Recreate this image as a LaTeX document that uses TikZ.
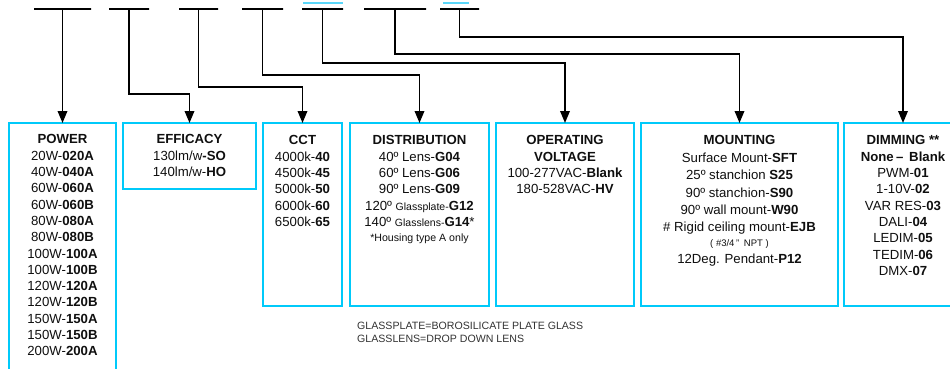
\documentclass[tikz,border=0pt]{standalone}
\usepackage{fontspec}
\setmainfont{Liberation Sans}
\usepackage{xcolor}
\definecolor{spcyan}{RGB}{0,202,250}
\definecolor{spline}{RGB}{90,215,250}
\definecolor{sptext}{RGB}{15,15,15}
\definecolor{spnote}{RGB}{50,50,50}
\usetikzlibrary{arrows.meta,positioning}

\begin{document}
\begin{tikzpicture}[x=1pt,y=-1pt,
  catbox/.style={draw=spcyan,line width=2.8pt,inner sep=0pt,outer sep=0pt},
  cattext/.style={align=center,inner sep=0pt,text=sptext,font=\fontsize{13.2}{16.3}\selectfont},
  codebar/.style={draw,line width=1.8pt,minimum height=0pt,inner sep=0pt,outer sep=0pt},
  conn/.style={line width=1.8pt,-{Triangle[length=12pt,width=9.5pt]}}]
  \useasboundingbox (0,0) rectangle (950,369);
  % code positions
  \node[codebar,minimum width=57pt] (b1) at (62.5,9) {};
  \node[codebar,minimum width=40pt] (b2) at (129,9) {};
  \node[codebar,minimum width=39pt] (b3) at (198.5,9) {};
  \node[codebar,minimum width=41pt] (b4) at (262.5,9) {};
  \node[codebar,minimum width=41pt] (b5) at (322.5,9) {};
  \node[codebar,minimum width=62pt] (b6) at (395,9) {};
  \node[codebar,minimum width=39pt] (b7) at (459.5,9) {};
  \draw[spline,line width=1.2pt] (303,3) -- (343,3);
  \draw[spline,line width=1.2pt] (443,3) -- (469,3);
  % category boxes
  \node[catbox,minimum width=107pt,minimum height=257pt] (power) at (62.5,251.5) {};
  \node[catbox,minimum width=133pt,minimum height=66pt] (eff) at (189.5,156) {};
  \node[catbox,minimum width=79pt,minimum height=183pt] (cct) at (302.5,214.5) {};
  \node[catbox,minimum width=139pt,minimum height=183pt] (dist) at (419.5,214.5) {};
  \node[catbox,minimum width=138pt,minimum height=183pt] (volt) at (565,214.5) {};
  \node[catbox,minimum width=197pt,minimum height=183pt] (mount) at (739.5,214.5) {};
  \node[catbox,minimum width=118pt,minimum height=183pt] (dim) at (903,214.5) {};
  % connectors
  \draw[conn] (b1.south) -- (power.north);
  \draw[conn] (b2.south) -- ++(0,85) -| (eff.north);
  \draw[conn] (b3.south) -- ++(0,78) -| (cct.north);
  \draw[conn] (b4.south) -- ++(0,66) -| (dist.north);
  \draw[conn] (b5.south) -- ++(0,54) -| (volt.north);
  \draw[conn] (b6.south) -- ++(0,45) -| (mount.north);
  \draw[conn] (b7.south) -- ++(0,28) -| (dim.north);
  % box contents
  \node[cattext,below=11.5pt of power.north] (powertxt) {\textbf{POWER}\\20W-\textbf{020A}\\40W-\textbf{040A}\\60W-\textbf{060A}\\60W-\textbf{060B}\\80W-\textbf{080A}\\80W-\textbf{080B}\\100W-\textbf{100A}\\100W-\textbf{100B}\\120W-\textbf{120A}\\120W-\textbf{120B}\\150W-\textbf{150A}\\150W-\textbf{150B}\\200W-\textbf{200A}};
  \node[cattext,below=11.5pt of eff.north] (efftxt) {\textbf{EFFICACY}\\130lm/w\textbf{-SO}\\140lm/w-\textbf{HO}};
  \node[cattext,below=12.5pt of cct.north] (ccttxt) {\textbf{CCT}\\4000k-\textbf{40}\\4500k-\textbf{45}\\5000k-\textbf{50}\\6000k-\textbf{60}\\6500k-\textbf{65}};
  \node[cattext,below=12.5pt of dist.north] (disttxt) {\textbf{DISTRIBUTION}\\40º Lens-\textbf{G04}\\60º Lens-\textbf{G06}\\90º Lens-\textbf{G09}\\120º {\fontsize{10.5}{12}\selectfont Glassplate-}\textbf{G12}\\140º {\fontsize{10.5}{12}\selectfont Glasslens-}\textbf{G14}*\\[-1.5pt]{\fontsize{10.6}{12}\selectfont *Housing type A only}};
  \node[cattext,below=12.5pt of volt.north] (volttxt) {\textbf{OPERATING}\\\textbf{VOLTAGE}\\100-277VAC-\textbf{Blank}\\180-528VAC-\textbf{HV}};
  \node[cattext,below=12.5pt of mount.north,font=\fontsize{13.2}{17.4}\selectfont] (mounttxt) {\textbf{MOUNTING}\\Surface Mount-\textbf{SFT}\\25º stanchion \textbf{S25}\\90º stanchion-\textbf{S90}\\90º wall mount-\textbf{W90}\\\# Rigid ceiling mount-\textbf{EJB}\\[-2.5pt]{\fontsize{9.5}{11}\selectfont ( \#3/4\,"\enspace NPT )}\\[-0.8pt]12Deg. Pendant-\textbf{P12}};
  \node[cattext,below=12.5pt of dim.north] (dimtxt) {\textbf{DIMMING **}\\\textbf{None\,– \,Blank}\\PWM-\textbf{01}\\1-10V-\textbf{02}\\VAR RES-\textbf{03}\\DALI-\textbf{04}\\LEDIM-\textbf{05}\\TEDIM-\textbf{06}\\DMX-\textbf{07}};
  % glass note
  \node[anchor=north west,align=left,inner sep=0pt,text=spnote,font=\fontsize{10.6}{13}\selectfont] (note) at (357,322) {GLASSPLATE=BOROSILICATE PLATE GLASS\\GLASSLENS=DROP DOWN LENS};
\end{tikzpicture}
\end{document}
